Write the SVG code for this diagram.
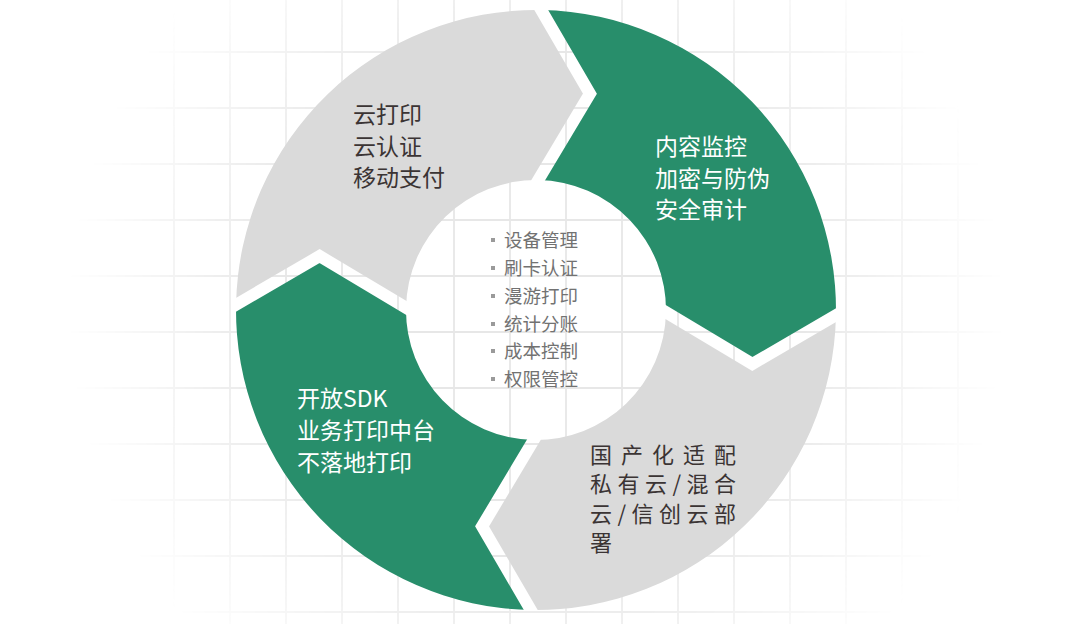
<svg xmlns="http://www.w3.org/2000/svg" xmlns:xlink="http://www.w3.org/1999/xlink" width="1080" height="624" viewBox="0 0 1080 624">
  <style>
    .grid line { stroke: #e7e7e7; stroke-width: 1.8; }
    .green { fill: #288e6b; }
    .gray { fill: #dadada; }
    .lbl { font-family: "Noto Sans CJK SC", "Noto Sans", sans-serif; font-size: 23px; }
    .lbl2 { font-family: "Noto Sans CJK SC", "Noto Sans", sans-serif; font-size: 22px; }
    .dark { fill: #3b3434; }
    .light { fill: #ffffff; }
    .list { font-family: "Noto Sans CJK SC", "Noto Sans", sans-serif; font-size: 18.5px; fill: #727272; }
    .bullet { fill: #9a9a9a; }
  </style>
  <defs>
    <radialGradient id="fade" gradientUnits="userSpaceOnUse" cx="536" cy="310" r="470">
      <stop offset="0" stop-color="#fff"/>
      <stop offset="0.55" stop-color="#fff"/>
      <stop offset="1" stop-color="#000"/>
    </radialGradient>
    <mask id="gridMask" maskUnits="userSpaceOnUse" x="0" y="0" width="1080" height="624">
      <rect x="0" y="0" width="1080" height="624" fill="url(#fade)"/>
    </mask>
    <polyline id="gap" points="533.93,-2.49 589.95,93.62 530.52,192.98" fill="none" stroke="#000" stroke-width="12" stroke-linejoin="miter" stroke-miterlimit="10"/>
    <mask id="gaps" maskUnits="userSpaceOnUse" x="0" y="0" width="1080" height="624">
      <rect x="0" y="0" width="1080" height="624" fill="#fff"/>
      <use xlink:href="#gap"/>
      <use xlink:href="#gap" transform="rotate(90 536 310)"/>
      <use xlink:href="#gap" transform="rotate(180 536 310)"/>
      <use xlink:href="#gap" transform="rotate(270 536 310)"/>
    </mask>
  </defs>

  <rect x="0" y="0" width="1080" height="624" fill="#ffffff"/>

  <g class="grid" mask="url(#gridMask)">
    <line x1="174" y1="0" x2="174" y2="624"/>
    <line x1="230" y1="0" x2="230" y2="624"/>
    <line x1="286" y1="0" x2="286" y2="624"/>
    <line x1="342" y1="0" x2="342" y2="624"/>
    <line x1="398" y1="0" x2="398" y2="624"/>
    <line x1="454" y1="0" x2="454" y2="624"/>
    <line x1="510" y1="0" x2="510" y2="624"/>
    <line x1="566" y1="0" x2="566" y2="624"/>
    <line x1="622" y1="0" x2="622" y2="624"/>
    <line x1="678" y1="0" x2="678" y2="624"/>
    <line x1="734" y1="0" x2="734" y2="624"/>
    <line x1="790" y1="0" x2="790" y2="624"/>
    <line x1="846" y1="0" x2="846" y2="624"/>
    <line x1="902" y1="0" x2="902" y2="624"/>
    <line x1="958" y1="0" x2="958" y2="624"/>
    <line x1="0" y1="52" x2="1080" y2="52"/>
    <line x1="0" y1="108" x2="1080" y2="108"/>
    <line x1="0" y1="164" x2="1080" y2="164"/>
    <line x1="0" y1="220" x2="1080" y2="220"/>
    <line x1="0" y1="276" x2="1080" y2="276"/>
    <line x1="0" y1="332" x2="1080" y2="332"/>
    <line x1="0" y1="388" x2="1080" y2="388"/>
    <line x1="0" y1="444" x2="1080" y2="444"/>
    <line x1="0" y1="500" x2="1080" y2="500"/>
    <line x1="0" y1="556" x2="1080" y2="556"/>
    <line x1="0" y1="612" x2="1080" y2="612"/>
  </g>

  <g id="connectors"></g>

  <g id="seg-cloud">
    <path class="gray" mask="url(#gaps)" d="M236.05 304.76 A300 300 0 0 1 541.24 10.05 L589.95 93.62 L538.27 180.02 A130 130 0 0 0 406.02 307.73 L319.62 256.05 Z"/>
    <text class="lbl dark" x="353" y="123">云打印</text>
    <text class="lbl dark" x="353" y="155">云认证</text>
    <text class="lbl dark" x="353" y="186">移动支付</text>
  </g>

  <g id="seg-security">
    <path class="green" mask="url(#gaps)" d="M541.24 10.05 A300 300 0 0 1 835.95 315.24 L752.38 363.95 L665.98 312.27 A130 130 0 0 0 538.27 180.02 L589.95 93.62 Z"/>
    <text class="lbl light" x="655" y="155">内容监控</text>
    <text class="lbl light" x="655" y="187">加密与防伪</text>
    <text class="lbl light" x="655" y="218">安全审计</text>
  </g>

  <g id="seg-deploy">
    <path class="gray" mask="url(#gaps)" d="M835.95 315.24 A300 300 0 0 1 530.76 609.95 L482.05 526.38 L533.73 439.98 A130 130 0 0 0 665.98 312.27 L752.38 363.95 Z"/>
    <text class="lbl2 dark" x="590" y="463" textLength="146" lengthAdjust="spacing">国产化适配</text>
    <text class="lbl2 dark" x="590" y="492" textLength="146" lengthAdjust="spacing">私有云/混合</text>
    <text class="lbl2 dark" x="590" y="522" textLength="146" lengthAdjust="spacing">云/信创云部</text>
    <text class="lbl2 dark" x="590" y="551">署</text>
  </g>

  <g id="seg-sdk">
    <path class="green" mask="url(#gaps)" d="M530.76 609.95 A300 300 0 0 1 236.05 304.76 L319.62 256.05 L406.02 307.73 A130 130 0 0 0 533.73 439.98 L482.05 526.38 Z"/>
    <text class="lbl light" x="297" y="407">开放SDK</text>
    <text class="lbl light" x="297" y="439">业务打印中台</text>
    <text class="lbl light" x="297" y="471">不落地打印</text>
  </g>

  <g id="core">
    <rect class="bullet" x="491" y="238" width="4" height="4"/>
    <text class="list" x="504" y="247">设备管理</text>
    <rect class="bullet" x="491" y="266" width="4" height="4"/>
    <text class="list" x="504" y="275">刷卡认证</text>
    <rect class="bullet" x="491" y="294" width="4" height="4"/>
    <text class="list" x="504" y="303">漫游打印</text>
    <rect class="bullet" x="491" y="322" width="4" height="4"/>
    <text class="list" x="504" y="331">统计分账</text>
    <rect class="bullet" x="491" y="349" width="4" height="4"/>
    <text class="list" x="504" y="358">成本控制</text>
    <rect class="bullet" x="491" y="377" width="4" height="4"/>
    <text class="list" x="504" y="386">权限管控</text>
  </g>
</svg>
